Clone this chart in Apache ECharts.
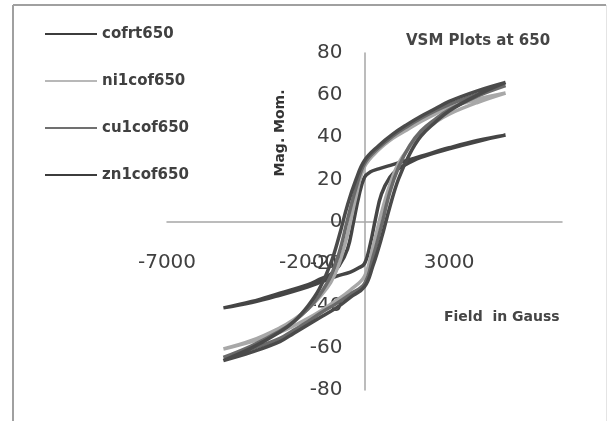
<!DOCTYPE html>
<html>
<head>
<meta charset="utf-8">
<script src="https://cdn.jsdelivr.net/npm/echarts@6/dist/echarts.min.js"></script>
<style>
html,body{margin:0;padding:0;background:#fff;}
#chart{width:608px;height:421px;}
</style>
</head>
<body>
<div id="chart"></div>
<script>
// ---- data (Field in Gauss, Mag. Mom.) ----
const seriesNames = ['cofrt650', 'ni1cof650', 'cu1cof650', 'zn1cof650'];
const xTickLabels = [-7000, -2000, 3000];
const yTickLabels = [-80, -60, -40, -20, 0, 20, 40, 60, 80];

const cofrtField = [5000, 4000, 3000, 2000, 1500, 1000, 500, 200, 0, -200, -400, -600, -900, -1200, -1600, -2000, -3000, -4000, -5000,
                    -4000, -3000, -2000, -1500, -1000, -500, -200, 0, 200, 400, 600, 900, 1200, 1600, 2000, 3000, 4000, 5000];
const cofrtMom   = [41, 38.5, 35, 31, 29, 27, 25, 23.5, 21, 12, -1, -13, -21, -25, -27.5, -30, -34, -38, -41,
                    -38.5, -35, -31, -28.5, -26, -24, -22, -20, -11, 2, 13, 21, 25, 28, 30.5, 34.5, 38, 41];

const loopField  = [5000, 4000, 3000, 2500, 2000, 1500, 1000, 500, 0, -300, -600, -900, -1200, -1600, -2000, -2500, -3000, -4000, -5000,
                    -4000, -3000, -2500, -2000, -1500, -1000, -500, 0, 300, 600, 900, 1200, 1600, 2000, 2500, 3000, 4000, 5000];
const ni1Mom     = [61, 58, 54, 51, 47.5, 43.5, 39.5, 34, 26, 12, -6, -20, -29, -36, -41.5, -46.5, -50.5, -56.5, -60.5,
                    -57, -52.5, -49.5, -46, -42, -37.5, -32.5, -26, -12, 4, 17.5, 27.5, 35.5, 42, 47, 51, 56.5, 61];
const cu1Mom     = [64.5, 60.5, 55.5, 52.5, 49, 45, 40.5, 35, 27.5, 16, 1, -15, -26, -35, -41.5, -47.5, -52, -59, -64.5,
                    -60.5, -55.5, -51.5, -47.5, -43, -39, -34.5, -29.5, -17, -2, 14, 25.5, 36, 43, 48.5, 53, 59.5, 64.5];
const zn1Mom     = [66, 62, 57, 53.5, 50, 46, 41.5, 36, 29, 20, 8, -7, -20, -32, -40, -47.5, -52.5, -60, -66,
                    -62, -57, -53, -49, -45, -41, -36, -31, -21, -8, 7, 20, 32, 40.5, 47, 52.5, 60, 66];

function pairs(xs, ys) { return xs.map((x, i) => [x, ys[i]]); }

const W = 608, H = 421;
const gridLeft = 167, gridRight = 46, gridTop = 53, gridBottom = 31;
const xMin = -7000, xMax = 7000, yMin = -80, yMax = 80;
// offsets that place each axis on the other's zero line
const plotW = W - gridLeft - gridRight, plotH = H - gridTop - gridBottom;
const yAxisOffset = -((0 - xMin) / (xMax - xMin)) * plotW;
const xAxisOffset = -((0 - yMin) / (yMax - yMin)) * plotH;

const chart = echarts.init(document.getElementById('chart'), null, {renderer: 'canvas'});
const colors = ['#454545', '#a8a8a8', '#6a6a6a', '#4a4a4a'];
const legendColors = ['#3c3c3c', '#b8b8b8', '#707070', '#3c3c3c'];
const dataSets = [pairs(cofrtField, cofrtMom), pairs(loopField, ni1Mom), pairs(loopField, cu1Mom), pairs(loopField, zn1Mom)];

const option = {
  animation: false,
  backgroundColor: '#ffffff',
  title: {
    text: 'VSM Plots at 650',
    left: 406, top: 34, padding: 0,
    textStyle: {fontFamily: 'DejaVu Sans', fontSize: 15, fontWeight: 'bold', color: '#454545'}
  },
  legend: {
    orient: 'vertical',
    left: 45, top: 25, padding: 0,
    icon: 'rect',
    itemWidth: 52, itemHeight: 2,
    itemGap: 29,
    data: seriesNames.map((n, i) => ({name: n, itemStyle: {color: legendColors[i]}})),
    textStyle: {fontFamily: 'DejaVu Sans', fontSize: 15, fontWeight: 'bold', color: '#404040', lineHeight: 18}
  },
  grid: {left: gridLeft, right: gridRight, top: gridTop, bottom: gridBottom, containLabel: false, outerBoundsMode: 'none'},
  xAxis: {
    type: 'value', min: xMin, max: xMax, interval: 1000,
    position: 'bottom', offset: xAxisOffset,
    axisLine: {show: true, onZero: false, lineStyle: {color: '#a6a6a6', width: 1.5}},
    axisTick: {show: false},
    splitLine: {show: false},
    axisLabel: {
      margin: 31,
      fontFamily: 'DejaVu Sans', fontSize: 20, color: '#404040',
      showMinLabel: true, showMaxLabel: false, hideOverlap: false,
      formatter: v => xTickLabels.indexOf(v) >= 0 ? String(v) : ''
    }
  },
  yAxis: {
    type: 'value', min: yMin, max: yMax, interval: 20,
    position: 'left', offset: yAxisOffset,
    axisLine: {show: true, onZero: false, lineStyle: {color: '#a6a6a6', width: 1.5}},
    axisTick: {show: false},
    splitLine: {show: false},
    axisLabel: {
      margin: 22, hideOverlap: false,
      fontFamily: 'DejaVu Sans', fontSize: 20, color: '#404040',
      formatter: v => yTickLabels.indexOf(v) >= 0 ? String(v) : ''
    }
  },
  series: seriesNames.map((n, i) => ({
    name: n, type: 'line', data: dataSets[i],
    smooth: 0.4, showSymbol: false, symbol: 'none',
    lineStyle: {color: colors[i], width: 3.5},
    itemStyle: {color: legendColors[i]},
    z: 2 + i
  })),
  graphic: [
    {type: 'line', shape: {x1: 13, y1: 5, x2: 606, y2: 5}, style: {stroke: '#a0a0a0', lineWidth: 2}},
    {type: 'line', shape: {x1: 13, y1: 5, x2: 13, y2: 421}, style: {stroke: '#a0a0a0', lineWidth: 2}},
    {type: 'line', shape: {x1: 606.5, y1: 5, x2: 606.5, y2: 421}, style: {stroke: '#e4e4e4', lineWidth: 1}},
    {type: 'text', x: 280, y: 133, rotation: Math.PI / 2,
      style: {text: 'Mag. Mom.', fontFamily: 'DejaVu Sans', fontSize: 14, fontWeight: 'bold', fill: '#333', align: 'center', verticalAlign: 'middle'}},
    {type: 'text', x: 444, y: 317,
      style: {text: 'Field  in Gauss', fontFamily: 'DejaVu Sans', fontSize: 14, fontWeight: 'bold', fill: '#454545', align: 'left', verticalAlign: 'middle'}}
  ]
};
chart.setOption(option);
</script>
</body>
</html>
